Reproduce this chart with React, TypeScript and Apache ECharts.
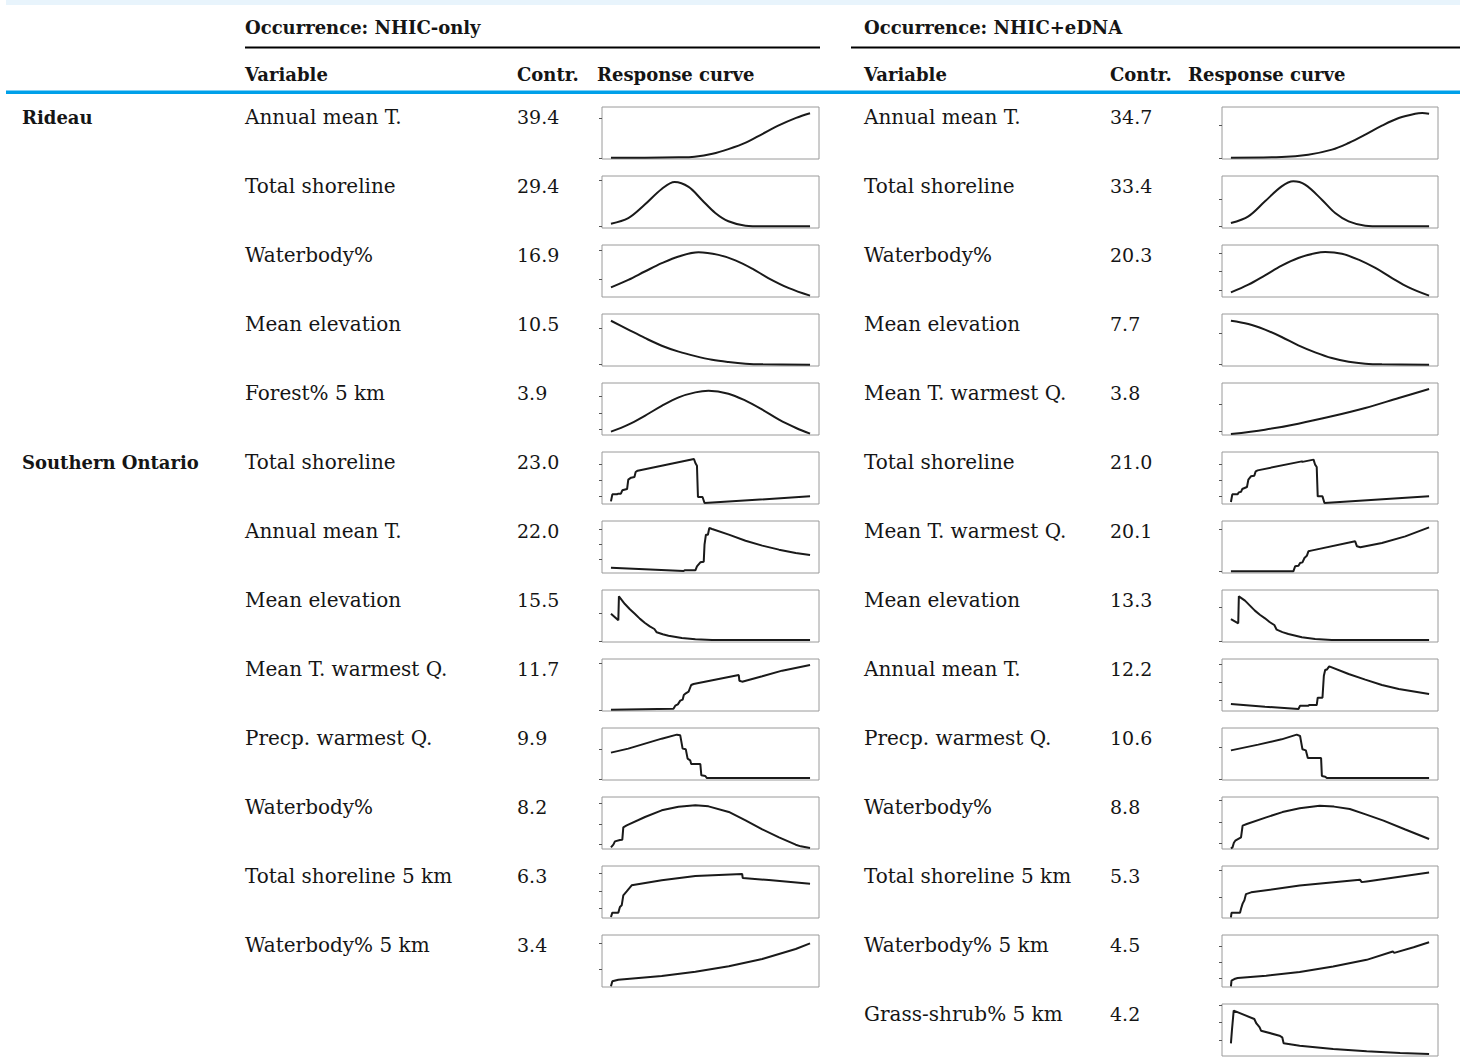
import React, { useEffect, useRef } from "react";
import * as echarts from "echarts";

// ---------- table text ----------
const regions = ["Rideau", "Southern Ontario"];
const regionRows = [0, 5];
const headerTitles = ["Occurrence: NHIC-only", "Occurrence: NHIC+eDNA"];
const columnHeads = ["Variable", "Contr.", "Response curve"];

const leftVariables = [
  "Annual mean T.", "Total shoreline", "Waterbody%", "Mean elevation", "Forest% 5 km",
  "Total shoreline", "Annual mean T.", "Mean elevation", "Mean T. warmest Q.", "Precp. warmest Q.",
  "Waterbody%", "Total shoreline 5 km", "Waterbody% 5 km",
];
const leftContr = ["39.4", "29.4", "16.9", "10.5", "3.9", "23.0", "22.0", "15.5", "11.7", "9.9", "8.2", "6.3", "3.4"];

const rightVariables = [
  "Annual mean T.", "Total shoreline", "Waterbody%", "Mean elevation", "Mean T. warmest Q.",
  "Total shoreline", "Mean T. warmest Q.", "Mean elevation", "Annual mean T.", "Precp. warmest Q.",
  "Waterbody%", "Total shoreline 5 km", "Waterbody% 5 km", "Grass-shrub% 5 km",
];
const rightContr = ["34.7", "33.4", "20.3", "7.7", "3.8", "21.0", "20.1", "13.3", "12.2", "10.6", "8.8", "5.3", "4.5", "4.2"];

// ---------- response curves (x: 0-100 along predictor, y: 0-100 relative response) ----------
const curveL1 = [[0,2.6],[17,2.6],[34,3.2],[42,4.5],[51,10],[59,19],[68,32],[76,48],[84,64],[93,79],[100,88]];
const curveL2 = [[0,8.3],[8.7,19],[17,45],[25.5,75],[32,88.5],[39,79],[45.7,54],[52.4,29],[59,13],[67.6,4.5],[76,3.2],[100,3.2]];
const curveL3 = [[0,18.6],[8.7,33],[17,49],[25.5,65],[34,78],[44,86],[54,81],[62.5,70.5],[71,54.5],[79,36.5],[89.4,17],[100,2.6]];
const curveL4 = [[0,87],[8.7,70],[17,54],[25.5,39],[34,27.6],[42.4,19],[50.8,12],[59,7.7],[67.6,4.5],[76,3.2],[100,2.6]];
const curveL5 = [[0,6.4],[8.7,19.9],[17,37],[25.5,56],[34,72.4],[42.4,82],[49,85],[59,79.5],[67.6,66],[76,48.7],[84.4,29.5],[93,13.5],[100,2.6]];
const curveL6 = [[0,5.1],[0.7,18.6],[3,18.6],[3.7,19.9],[5,19.9],[5.7,26.3],[8.1,28.8],[8.7,46.8],[10.1,50.6],[11.8,51.9],[12.4,61.5],[13.4,64.1],[41.7,86.5],[42.4,78.8],[43.2,73.7],[43.7,13.5],[46,13.5],[47,1.9],[100,14.7]];
const curveL7 = [[0,10.3],[36.5,3.8],[37,5.1],[42.4,5.1],[43.2,12.8],[44.9,20.5],[46.6,21.8],[47,54.5],[47.7,73.7],[48.7,73.7],[49.4,86.5],[50.8,84.6],[59.2,73.7],[67.6,62],[76,52.6],[84.4,44.9],[92.8,38.5],[100,34.6]];
const curveL8 = [[0,54.5],[3.7,41.7],[4,87.8],[7,73],[9.5,63],[12.1,53.8],[14.6,44.5],[17.1,36.5],[19.5,30],[21.8,25],[23,18.6],[26,15],[28.9,12.2],[35.6,7.7],[42.4,5.1],[50.8,3.8],[100,3.8]];
const curveL9 = [[0,2.6],[31.4,4.5],[32.3,10.3],[33.6,12.8],[34.8,19.9],[36,21.8],[36.6,30.8],[37.6,34],[39,37.2],[40.3,50],[41.5,52],[64.2,69.2],[64.5,58.3],[65.9,56.4],[76,66.7],[86,77.6],[100,88.5]];
const curveL10 = [[0,52.6],[8.7,60.3],[17.1,69.9],[25.5,79.5],[33.1,87.2],[34.8,85.9],[36,60.3],[37.6,59],[38.5,41],[39.8,37.8],[40.3,30.8],[44.9,30.8],[45.4,9],[47.4,7.7],[48.2,3.8],[100,3.8]];
const curveL11 = [[0,3.2],[1.2,8.3],[2,14.7],[4.5,17.3],[5.7,17.9],[6.2,41.7],[7.9,45.5],[17.1,61.5],[25.5,74.4],[33.9,81.4],[42.4,84],[49,82],[59.2,71.2],[67.6,55],[76,37.8],[84.4,22.4],[92.8,8.3],[95.3,5.1],[100,1.9]];
const curveL12 = [[0,1.9],[0.7,10.3],[3.7,10.3],[4.5,21.2],[5.4,24.4],[6.2,43.6],[7.9,51.3],[10.4,62.8],[25.5,72.4],[42.4,80.8],[65.9,84.6],[66.2,76.9],[79.3,73],[100,66]];
const curveL13 = [[0,1.3],[0.7,10.9],[3.7,14],[25.5,21],[42.4,29.5],[59.2,40],[76,54],[92.8,73],[100,84]];

const curveR1 = [[0,2.6],[25.6,3.8],[39,8.3],[51,18],[59.4,30.8],[67.8,46.8],[76.2,64.1],[84.7,78.8],[93,87.2],[96.5,88.5],[100,87.2]];
const curveR2 = [[0,9.6],[8.8,22.4],[17.2,51.3],[25.6,80],[31.5,89.7],[37.4,83.3],[45.9,54.5],[52.6,28.8],[59.4,12.8],[67.8,4.5],[76.2,3.2],[100,3.2]];
const curveR3 = [[0,9],[8.8,23.7],[17.2,41.7],[25.6,60.3],[34,75],[42.5,84],[47.6,86.5],[56,83.3],[64.4,71.8],[72.9,55.8],[81.3,36.5],[89.7,18.6],[100,2.6]];
const curveR4 = [[0,87.2],[8.8,80.8],[17.2,69.9],[25.6,55.8],[34,39.7],[42.5,26.3],[50.9,15.4],[59.4,8.3],[67.8,4.5],[76.2,3.2],[100,2.6]];
const curveR5 = [[0,1.9],[17.2,10.3],[34,21.8],[50.9,35.9],[67.8,51.9],[84.7,71.2],[100,88.5]];
const curveR6 = [[0,3.8],[0.7,18.6],[3.4,18.6],[4,22.4],[5.1,23.5],[5.7,28.8],[8.1,32.7],[8.8,46.8],[10.1,53.2],[11.8,54.5],[12.5,62.8],[13.5,64.7],[35.8,82],[36.1,81],[41.7,85.3],[42.5,75.6],[43.3,71.2],[43.8,14.7],[46.2,14.7],[47.2,1.9],[100,14.7]];
const curveR7 = [[0,3.2],[31.5,3.2],[32.4,12.8],[34.1,14],[34.9,19.2],[36.1,20.5],[37.1,28.8],[38.3,33],[39.1,41.7],[40.5,43],[62.7,60.9],[63.6,51.3],[65.3,49.4],[76.2,57.7],[88,70.5],[100,87.8]];
const curveR8 = [[0,44.2],[3.7,35.9],[4,87.8],[7.1,79.5],[9.6,70],[12.1,60.3],[14.6,52.5],[17.2,45.5],[19.5,38.5],[21.9,32.7],[23.1,23.7],[26,19],[29,15.4],[35.8,9],[42.5,5.8],[50.9,3.8],[100,3.8]];
const curveR9 = [[0,13.5],[17.2,8.3],[34.1,3.8],[34.9,10.3],[39.1,10.3],[39.5,11.5],[43.3,11.5],[43.8,25.6],[46.2,25.6],[46.9,67.9],[47.6,79.5],[48.4,79.5],[49.6,85.9],[59.4,71.2],[67.8,60.3],[76.2,50],[84.7,42.3],[100,32.7]];
const curveR10 = [[0,57],[13.8,68],[25.6,78.2],[33.2,87.2],[34.9,84.6],[36.1,59],[37.8,57],[38.8,42.3],[45.5,42.3],[45.9,7.7],[47.6,6.4],[48.4,3.8],[100,3.8]];
const curveR11 = [[0,1.3],[0.8,3.2],[1.5,12],[2.2,16],[5.1,22.4],[5.9,44.9],[8,48],[17.8,60.9],[26,71],[34.7,78.2],[44.8,83.3],[52,81.5],[60,76.9],[68,66.5],[77,54.5],[88,37.5],[100,19.2]];
const curveR12 = [[0,1.3],[0.3,9.9],[4.6,9.9],[5.1,17.8],[5.9,27.6],[6.8,34.2],[7.6,46],[10.2,49.3],[34.7,62.5],[65.1,73.7],[66,69],[68.5,70.4],[100,87.5]];
const curveR13 = [[0,1.3],[0.3,12.1],[1.7,15.3],[3.4,17.2],[17.8,21.7],[34.7,28.7],[51.6,39.5],[68.5,52.2],[81.7,68.2],[82.4,65.6],[92.2,76.4],[100,86]];
const curveR14 = [[0,24.4],[0.5,48.7],[1.4,87.2],[11.8,71.2],[12.8,63],[13.5,60],[14.5,55],[15.2,48.7],[24.5,39.1],[25.9,35.9],[26.6,24.4],[34.7,19.9],[51.6,13.5],[68.5,9],[85.4,5.8],[100,3.8]];

// y tick positions of each small plot
const ticksLeft = [
  [1.9, 77.6], [2.6, 91.7], [34.6, 89.7], [2.6, 72.4], [10.3, 42.3, 75],
  [14.7, 45.5, 75.6], [25.6, 55.1, 83.3], [1.3, 55.8], [0.6, 92.3], [1.3, 59],
  [8.3, 47.4, 88.5], [19.2, 51.9, 85.3], [34.6, 84],
];
const ticksRight = [
  [1.9, 64.7], [2.6, 55.8], [13.5, 48.7, 84.6], [2.6, 63.5], [7.7, 59],
  [14.7, 45.5, 75.6], [3.2, 83.3], [1.3, 67.3], [21.2, 55.1, 90.4], [1.3, 63.5],
  [10.9, 51.3, 93], [40, 91.4], [17.2, 47.8, 79], [29.5, 64.1, 98],
];

const leftCurves = [curveL1, curveL2, curveL3, curveL4, curveL5, curveL6, curveL7, curveL8, curveL9, curveL10, curveL11, curveL12, curveL13];
const rightCurves = [curveR1, curveR2, curveR3, curveR4, curveR5, curveR6, curveR7, curveR8, curveR9, curveR10, curveR11, curveR12, curveR13, curveR14];
const smoothRows = [0, 1, 2, 3, 4];

export default function App() {
  const ref = useRef<HTMLDivElement>(null);

  useEffect(() => {
    if (!ref.current) return;
    const chart = echarts.init(ref.current, undefined, { renderer: "svg" });

    const FONT = '"DejaVu Serif", serif';
    const ROW0 = 117;
    const ROWH = 69;
    const PLOT_TOP0 = 107;
    const PLOT_H = 52;
    const cols = [
      { varX: 245, contrX: 517, respX: 597, plotX: 602, plotW: 217, vars: leftVariables, contr: leftContr, curves: leftCurves, ticks: ticksLeft, lineX1: 245, lineX2: 820 },
      { varX: 864, contrX: 1110, respX: 1188, plotX: 1222, plotW: 216, vars: rightVariables, contr: rightContr, curves: rightCurves, ticks: ticksRight, lineX1: 851, lineX2: 1460 },
    ];

    const graphic: any[] = [];
    const txt = (text: string, x: number, y: number, bold = false, size = 20) => ({
      type: "text",
      x,
      y,
      silent: true,
      style: {
        text,
        fontFamily: FONT,
        fontSize: size,
        fontWeight: bold ? "bold" : "normal",
        fill: "#151515",
        align: "left",
        verticalAlign: "middle",
      },
    });

    graphic.push({ type: "rect", shape: { x: 6, y: 0, width: 1454, height: 5 }, style: { fill: "#e8f4fc" }, silent: true });
    graphic.push({ type: "rect", shape: { x: 6, y: 90.5, width: 1454, height: 3.5 }, style: { fill: "#00a0e9" }, silent: true });

    const grids: any[] = [];
    const xAxes: any[] = [];
    const yAxes: any[] = [];
    const series: any[] = [];

    cols.forEach((c, ci) => {
      graphic.push(txt(headerTitles[ci], c.varX, 27, true, 18));
      graphic.push({ type: "line", shape: { x1: c.lineX1, y1: 47.5, x2: c.lineX2, y2: 47.5 }, style: { stroke: "#000", lineWidth: 2 }, silent: true });
      graphic.push(txt(columnHeads[0], c.varX, 74, true, 18));
      graphic.push(txt(columnHeads[1], c.contrX, 74, true, 18));
      graphic.push(txt(columnHeads[2], c.respX, 74, true, 18));
      c.vars.forEach((v, i) => {
        graphic.push(txt(v, c.varX, ROW0 + ROWH * i));
        graphic.push(txt(c.contr[i], c.contrX, ROW0 + ROWH * i, false, 19));
      });
      c.curves.forEach((curve, i) => {
        const idx = grids.length;
        grids.push({
          left: c.plotX,
          top: PLOT_TOP0 + ROWH * i,
          width: c.plotW,
          height: PLOT_H,
          show: true,
          borderColor: "#9a9a9a",
          borderWidth: 1,
          backgroundColor: "transparent",
        });
        xAxes.push({ gridIndex: idx, type: "value", min: -4.5, max: 104.5, show: false });
        yAxes.push({
          gridIndex: idx,
          type: "value",
          position: "left",
          min: 0,
          max: 100,
          axisLine: { show: false, onZero: false },
          axisTick: { show: true, length: 3, inside: false, customValues: c.ticks[i], lineStyle: { color: "#555", width: 1 } },
          axisLabel: { show: false },
          splitLine: { show: false },
        });
        series.push({
          type: "line",
          xAxisIndex: idx,
          yAxisIndex: idx,
          data: curve,
          showSymbol: false,
          symbol: "none",
          smooth: smoothRows.includes(i) ? 0.35 : false,
          lineStyle: { color: "#1a1a1a", width: 2 },
          silent: true,
        });
      });
    });

    regions.forEach((r, i) => {
      graphic.push(txt(r, 22, ROW0 + ROWH * regionRows[i], true, 18));
    });

    chart.setOption({
      animation: false,
      backgroundColor: "#fff",
      grid: grids,
      xAxis: xAxes,
      yAxis: yAxes,
      series,
      graphic,
    });

    return () => chart.dispose();
  }, []);

  return (
    <div
      ref={ref}
      style={{ position: "absolute", left: 0, top: 0, width: 1460, height: 1057, background: "#fff" }}
    />
  );
}
